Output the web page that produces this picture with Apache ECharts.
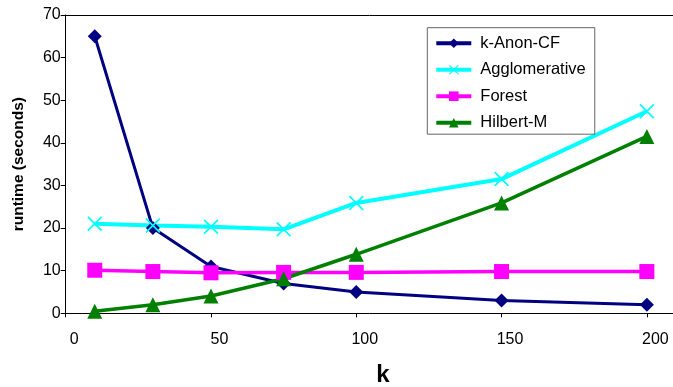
<!DOCTYPE html>
<html>
<head>
<meta charset="utf-8">
<script src="https://cdn.jsdelivr.net/npm/echarts@6/dist/echarts.min.js"></script>
<style>
  html, body { margin: 0; padding: 0; background: #fff; }
  #chart { width: 673px; height: 387px; }
</style>
</head>
<body>
<div id="chart"></div>
<script>
// Runtime of each method for different values of k
const kValues = [10, 30, 50, 75, 100, 150, 200];
const kAnonCF = [65, 20, 11, 7, 5, 3, 2];
const agglomerative = [21, 20.6, 20.3, 19.7, 25.9, 31.5, 47.4];
const forest = [10.1, 9.8, 9.5, 9.6, 9.6, 9.8, 9.8];
const hilbertM = [0.5, 2, 4.05, 8.1, 13.85, 25.9, 41.5];

const xTicks = [0, 50, 100, 150, 200];
const yTicks = [0, 10, 20, 30, 40, 50, 60, 70];

const seriesNames = ['k-Anon-CF', 'Agglomerative', 'Forest', 'Hilbert-M'];

// filled "X" marker built from two diagonal bands
const crossPath = 'path://M8,0L100,92L92,100L0,8ZM92,0L100,8L8,100L0,92Z';

const font = 'Liberation Sans, Arial, sans-serif';

function pairs(ys) {
  return kValues.map((k, i) => [k, ys[i]]);
}

const chart = echarts.init(document.getElementById('chart'), null, { renderer: 'canvas' });

chart.setOption({
  animation: false,
  backgroundColor: '#ffffff',
  textStyle: { fontFamily: font, color: '#000' },
  grid: { left: 65.7, right: 0, top: 15, bottom: 73.7, containLabel: false, outerBoundsMode: 'none' },
  legend: {
    orient: 'vertical',
    left: 427.3,
    top: 27.7,
    padding: [7, 9, 3, 7],
    borderColor: '#666',
    borderWidth: 1,
    itemWidth: 35,
    itemHeight: 12,
    itemGap: 9.5,
    lineStyle: { width: 4 },
    textStyle: { fontFamily: font, fontSize: 16.5, lineHeight: 17, color: '#000', padding: [0, 0, 0, 4] },
    data: seriesNames
  },
  xAxis: [{
    type: 'value',
    min: 0,
    max: 209,
    name: 'k',
    nameLocation: 'middle',
    nameGap: 50,
    nameTextStyle: { fontFamily: font, fontSize: 24, fontWeight: 'bold', color: '#000', padding: [0, 0, 0, 27] },
    axisLine: { show: true, onZero: false, lineStyle: { color: '#000', width: 1 } },
    axisTick: { show: true, inside: false, length: 4, customValues: xTicks, lineStyle: { color: '#000' } },
    axisLabel: { customValues: xTicks, fontFamily: font, fontSize: 16, color: '#000', margin: 18.5, padding: [0, 0, 0, 17] },
    splitLine: { show: false }
  }, {
    type: 'value',
    position: 'top',
    min: 0,
    max: 209,
    axisLine: { show: true, onZero: false, lineStyle: { color: '#000', width: 1 } },
    axisTick: { show: false },
    axisLabel: { show: false },
    splitLine: { show: false }
  }],
  yAxis: {
    type: 'value',
    min: 0,
    max: 70,
    interval: 10,
    name: 'runtime (seconds)',
    nameLocation: 'middle',
    nameGap: 39,
    nameTextStyle: { fontFamily: font, fontSize: 15.5, fontWeight: 'bold', color: '#000' },
    axisLine: { show: true, lineStyle: { color: '#000', width: 1 } },
    axisTick: { show: true, inside: false, length: 5, customValues: yTicks, lineStyle: { color: '#000' } },
    axisLabel: { customValues: yTicks, fontFamily: font, fontSize: 16, color: '#000', margin: 5 },
    splitLine: { show: false }
  },
  series: [
    {
      name: seriesNames[0],
      type: 'line',
      data: pairs(kAnonCF),
      symbol: 'diamond',
      symbolSize: 14,
      color: '#000080',
      lineStyle: { color: '#000080', width: 3 },
      itemStyle: { color: '#000080' }
    },
    {
      name: seriesNames[1],
      type: 'line',
      data: pairs(agglomerative),
      symbol: crossPath,
      symbolSize: 15,
      color: '#00ffff',
      lineStyle: { color: '#00ffff', width: 4 },
      itemStyle: { color: '#00ffff' }
    },
    {
      name: seriesNames[2],
      type: 'line',
      data: pairs(forest),
      symbol: 'rect',
      symbolSize: 15,
      color: '#ff00ff',
      lineStyle: { color: '#ff00ff', width: 3.5 },
      itemStyle: { color: '#ff00ff' }
    },
    {
      name: seriesNames[3],
      type: 'line',
      data: pairs(hilbertM),
      symbol: 'triangle',
      symbolSize: 15,
      color: '#008000',
      lineStyle: { color: '#008000', width: 3.5 },
      itemStyle: { color: '#008000' }
    }
  ]
});
</script>
</body>
</html>
